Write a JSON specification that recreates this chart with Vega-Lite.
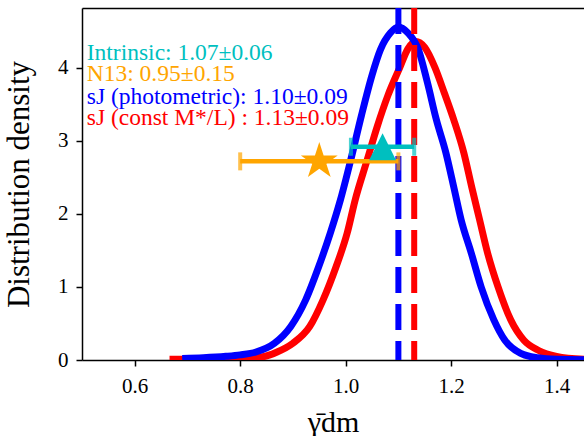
{
  "$schema": "https://vega.github.io/schema/vega-lite/v6.json",
  "width": 502,
  "height": 352,
  "autosize": {"type": "none"},
  "padding": {"left": 82, "top": 8, "right": 0, "bottom": 76},
  "background": "white",
  "config": {
    "view": {"stroke": null},
    "axis": {
      "domainColor": "black", "domainWidth": 1.5, "tickColor": "black", "tickWidth": 1.5, "tickSize": 6,
      "labelFont": "Liberation Serif", "labelFontSize": 21, "labelColor": "black",
      "titleFont": "Liberation Serif", "titleFontWeight": "normal", "titleColor": "black", "grid": false
    }
  },
  "datasets": {
    "curves": [
      {"series": "const", "x": 0.666, "d": 0.01},
      {"series": "const", "x": 0.70, "d": 0.01},
      {"series": "const", "x": 0.75, "d": 0.015},
      {"series": "const", "x": 0.80, "d": 0.025},
      {"series": "const", "x": 0.84, "d": 0.04},
      {"series": "const", "x": 0.87, "d": 0.11},
      {"series": "const", "x": 0.90, "d": 0.23},
      {"series": "const", "x": 0.932, "d": 0.46},
      {"series": "const", "x": 0.957, "d": 0.82},
      {"series": "const", "x": 0.982, "d": 1.28},
      {"series": "const", "x": 1.003, "d": 1.74},
      {"series": "const", "x": 1.018, "d": 2.19},
      {"series": "const", "x": 1.04, "d": 2.72},
      {"series": "const", "x": 1.06, "d": 3.2},
      {"series": "const", "x": 1.08, "d": 3.62},
      {"series": "const", "x": 1.103, "d": 4.01},
      {"series": "const", "x": 1.118, "d": 4.26},
      {"series": "const", "x": 1.133, "d": 4.36},
      {"series": "const", "x": 1.15, "d": 4.28},
      {"series": "const", "x": 1.169, "d": 4.01},
      {"series": "const", "x": 1.187, "d": 3.66},
      {"series": "const", "x": 1.205, "d": 3.29},
      {"series": "const", "x": 1.224, "d": 2.84},
      {"series": "const", "x": 1.239, "d": 2.37},
      {"series": "const", "x": 1.254, "d": 1.92},
      {"series": "const", "x": 1.269, "d": 1.47},
      {"series": "const", "x": 1.289, "d": 1.0},
      {"series": "const", "x": 1.313, "d": 0.55},
      {"series": "const", "x": 1.338, "d": 0.27},
      {"series": "const", "x": 1.366, "d": 0.13},
      {"series": "const", "x": 1.40, "d": 0.05},
      {"series": "const", "x": 1.452, "d": 0.01},
      {"series": "photometric", "x": 0.69, "d": 0.02},
      {"series": "photometric", "x": 0.73, "d": 0.03},
      {"series": "photometric", "x": 0.773, "d": 0.05},
      {"series": "photometric", "x": 0.80, "d": 0.07},
      {"series": "photometric", "x": 0.83, "d": 0.11},
      {"series": "photometric", "x": 0.865, "d": 0.23},
      {"series": "photometric", "x": 0.896, "d": 0.46},
      {"series": "photometric", "x": 0.924, "d": 0.82},
      {"series": "photometric", "x": 0.949, "d": 1.28},
      {"series": "photometric", "x": 0.971, "d": 1.74},
      {"series": "photometric", "x": 0.99, "d": 2.19},
      {"series": "photometric", "x": 1.01, "d": 2.75},
      {"series": "photometric", "x": 1.03, "d": 3.35},
      {"series": "photometric", "x": 1.05, "d": 3.9},
      {"series": "photometric", "x": 1.066, "d": 4.25},
      {"series": "photometric", "x": 1.085, "d": 4.48},
      {"series": "photometric", "x": 1.10, "d": 4.56},
      {"series": "photometric", "x": 1.118, "d": 4.48},
      {"series": "photometric", "x": 1.138, "d": 4.25},
      {"series": "photometric", "x": 1.155, "d": 3.8},
      {"series": "photometric", "x": 1.172, "d": 3.29},
      {"series": "photometric", "x": 1.19, "d": 2.84},
      {"series": "photometric", "x": 1.205, "d": 2.37},
      {"series": "photometric", "x": 1.219, "d": 1.92},
      {"series": "photometric", "x": 1.238, "d": 1.47},
      {"series": "photometric", "x": 1.257, "d": 1.0},
      {"series": "photometric", "x": 1.281, "d": 0.55},
      {"series": "photometric", "x": 1.302, "d": 0.27},
      {"series": "photometric", "x": 1.332, "d": 0.09},
      {"series": "photometric", "x": 1.364, "d": 0.03},
      {"series": "photometric", "x": 1.40, "d": 0.01},
      {"series": "photometric", "x": 1.452, "d": 0.005}
    ],
    "medians": [
      {"series": "photometric", "x": 1.10},
      {"series": "const", "x": 1.13}
    ],
    "points": [
      {"series": "N13", "x": 0.95, "lo": 0.80, "hi": 1.10, "y": 2.72},
      {"series": "Intrinsic", "x": 1.07, "lo": 1.01, "hi": 1.13, "y": 2.92}
    ],
    "labels": [
      {"series": "Intrinsic", "x": 0.509, "y": 4.21, "label": "Intrinsic: 1.07±0.06"},
      {"series": "N13", "x": 0.509, "y": 3.91, "label": "N13: 0.95±0.15"},
      {"series": "photometric", "x": 0.509, "y": 3.60, "label": "sJ (photometric): 1.10±0.09"},
      {"series": "const", "x": 0.509, "y": 3.31, "label": "sJ (const M*/L) : 1.13±0.09"}
    ]
  },
  "resolve": {"axis": {"x": "independent"}},
  "encoding": {
    "color": {
      "field": "series", "type": "nominal", "legend": null,
      "scale": {"domain": ["Intrinsic", "N13", "photometric", "const"], "range": ["#00bfbf", "#ffa500", "#0000ff", "#ff0000"]}
    }
  },
  "layer": [
    {
      "data": {"name": "curves"},
      "transform": [{"filter": "datum.series === 'const'"}],
      "mark": {"type": "line", "strokeWidth": 7, "clip": true, "interpolate": "monotone"},
      "encoding": {
        "x": {"field": "x", "type": "quantitative", "scale": {"domain": [0.5, 1.452], "nice": false, "zero": false},
              "axis": {"orient": "bottom", "values": [0.6, 0.8, 1.0, 1.2, 1.4], "format": ".1f", "labelPadding": 9,
                       "labelFont": "Liberation Serif", "labelFontSize": 21,
                       "encode": {"labels": {"update": {"font": {"value": "Liberation Serif"}, "fontSize": {"value": 21}}}},
                       "title": "γ̄dm", "titleFont": "Liberation Serif", "titleFontSize": 30, "titlePadding": 11}},
        "y": {"field": "d", "type": "quantitative", "scale": {"domain": [0, 4.82], "nice": false},
              "axis": {"values": [0, 1, 2, 3, 4], "format": "d", "labelPadding": 8,
                       "labelFont": "Liberation Serif", "labelFontSize": 21,
                       "encode": {"labels": {"update": {"font": {"value": "Liberation Serif"}, "fontSize": {"value": 21}}}},
                       "title": "Distribution density", "titleFont": "Liberation Serif", "titleFontSize": 31, "titlePadding": 22}}
      }
    },
    {
      "data": {"name": "curves"},
      "transform": [{"filter": "datum.series === 'photometric'"}],
      "mark": {"type": "line", "strokeWidth": 7, "clip": true, "interpolate": "monotone"},
      "encoding": {
        "x": {"field": "x", "type": "quantitative", "axis": null},
        "y": {"field": "d", "type": "quantitative"}
      }
    },
    {
      "data": {"name": "medians"},
      "mark": {"type": "rule", "strokeWidth": 6, "strokeDash": [26, 11]},
      "encoding": {
        "x": {"field": "x", "type": "quantitative",
              "axis": {"orient": "top", "labels": false, "ticks": false, "title": null, "domainWidth": 1.5}}
      }
    },
    {
      "data": {"name": "points"},
      "mark": {"type": "rule", "strokeWidth": 4.5},
      "encoding": {
        "x": {"field": "lo", "type": "quantitative", "axis": null},
        "x2": {"field": "hi"},
        "y": {"field": "y", "type": "quantitative"}
      }
    },
    {
      "data": {"name": "points"},
      "transform": [{"fold": ["lo", "hi"], "as": ["end", "xe"]}],
      "mark": {"type": "tick", "orient": "vertical", "size": 18, "thickness": 4},
      "encoding": {
        "x": {"field": "xe", "type": "quantitative", "axis": null},
        "y": {"field": "y", "type": "quantitative"}
      }
    },
    {
      "data": {"name": "points"},
      "transform": [{"filter": "datum.series === 'N13'"}],
      "mark": {"type": "point", "filled": true, "opacity": 1, "size": 1500,
               "shape": "M0,-1L0.2245,-0.309L0.951,-0.309L0.3633,0.118L0.588,0.809L0,0.382L-0.588,0.809L-0.3633,0.118L-0.951,-0.309L-0.2245,-0.309Z"},
      "encoding": {
        "x": {"field": "x", "type": "quantitative", "axis": null},
        "y": {"field": "y", "type": "quantitative"}
      }
    },
    {
      "data": {"name": "points"},
      "transform": [{"filter": "datum.series === 'Intrinsic'"}],
      "mark": {"type": "point", "filled": true, "opacity": 1, "size": 730, "shape": "M0,-1L-1,1L1,1Z"},
      "encoding": {
        "x": {"field": "x", "type": "quantitative", "axis": null},
        "y": {"field": "y", "type": "quantitative"}
      }
    },
    {
      "data": {"name": "labels"},
      "mark": {"type": "text", "align": "left", "baseline": "middle", "font": "Liberation Serif", "fontSize": 23.5},
      "encoding": {
        "x": {"field": "x", "type": "quantitative", "axis": null},
        "y": {"field": "y", "type": "quantitative"},
        "text": {"field": "label"}
      }
    }
  ]
}
